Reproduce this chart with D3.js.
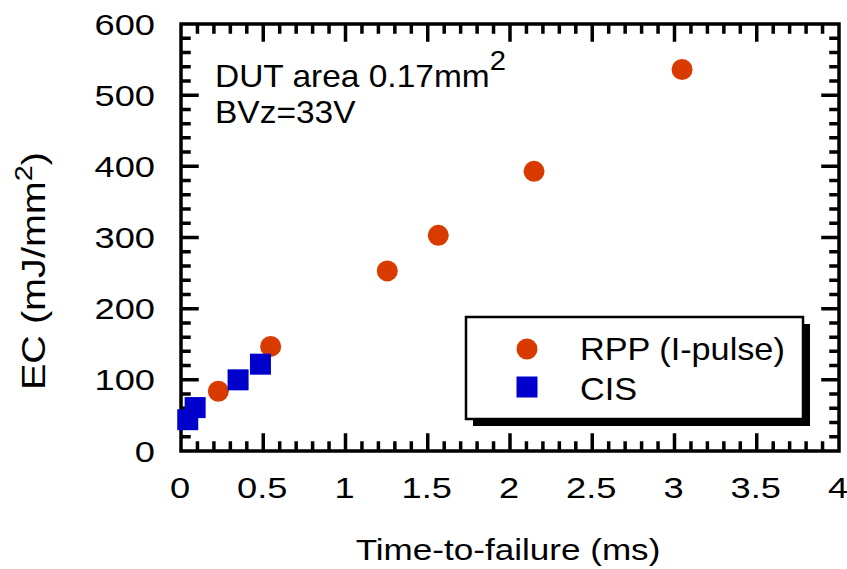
<!DOCTYPE html>
<html>
<head>
<meta charset="utf-8">
<script src="https://cdn.jsdelivr.net/npm/d3@7"></script>
<style>
  body { margin: 0; background: #fff; }
  svg text { font-family: "Liberation Sans", Arial, Helvetica, sans-serif; fill: #000; }
</style>
</head>
<body>
<div id="chart"></div>
<script>
// RPP (I-pulse) series
const rppTime = [0.227, 0.545, 1.254, 1.564, 2.146, 3.046];
const rppEC = [84, 147, 253, 303, 393, 536];
// CIS series
const cisTime = [0.041, 0.086, 0.347, 0.483];
const cisEC = [44, 61, 100, 122];

const xTicks = [0, 0.5, 1, 1.5, 2, 2.5, 3, 3.5, 4];
const xTickLabels = ["0", "0.5", "1", "1.5", "2", "2.5", "3", "3.5", "4"];
const yTicks = [0, 100, 200, 300, 400, 500, 600];
const yTickLabels = ["0", "100", "200", "300", "400", "500", "600"];
const seriesNames = ["RPP (I-pulse)", "CIS"];

const width = 847, height = 569;
const plot = { left: 181, right: 839, top: 24, bottom: 451 };
const orange = "#d93a00", blue = "#0000cc";
const lw = 3.5;

const svg = d3.select("#chart").append("svg")
    .attr("width", width)
    .attr("height", height);

const x = d3.scaleLinear().domain([0, 4]).range([plot.left, plot.right]);
const y = d3.scaleLinear().domain([0, 600]).range([plot.bottom, plot.top]);

const minorX = d3.range(1, 40).map(v => v / 10).filter((v, i) => (i + 1) % 5 !== 0);
const minorY = d3.range(1, 30).map(v => v * 20).filter(v => v % 100 !== 0);

// frame plus ticks pointing inward on all four sides
const tickPath = d3.path();
[[xTicks, 16], [minorX, 8]].forEach(([vals, len]) => {
    vals.forEach(v => {
        tickPath.moveTo(x(v), plot.bottom); tickPath.lineTo(x(v), plot.bottom - len);
        tickPath.moveTo(x(v), plot.top); tickPath.lineTo(x(v), plot.top + len);
    });
});
[[yTicks, 16], [minorY, 8]].forEach(([vals, len]) => {
    vals.forEach(v => {
        tickPath.moveTo(plot.left, y(v)); tickPath.lineTo(plot.left + len, y(v));
        tickPath.moveTo(plot.right, y(v)); tickPath.lineTo(plot.right - len, y(v));
    });
});
tickPath.rect(plot.left, plot.top, plot.right - plot.left, plot.bottom - plot.top);

svg.append("path")
    .attr("d", tickPath.toString())
    .attr("fill", "none")
    .attr("stroke", "black")
    .attr("stroke-width", lw)
    .attr("stroke-linecap", "square");

// tick labels (the source text is drawn a bit wide)
svg.append("g").selectAll("text")
    .data(xTicks)
    .join("text")
    .attr("transform", d => `translate(${x(d) - 1},498) scale(1.25,1)`)
    .attr("text-anchor", "middle")
    .attr("font-size", 29)
    .text((d, i) => xTickLabels[i]);

svg.append("g").selectAll("text")
    .data(yTicks)
    .join("text")
    .attr("transform", d => `translate(155,${y(d) + 10.5}) scale(1.25,1)`)
    .attr("text-anchor", "end")
    .attr("font-size", 29)
    .text((d, i) => yTickLabels[i]);

// axis titles
svg.append("text")
    .attr("transform", "translate(508,560) scale(1.17,1)")
    .attr("text-anchor", "middle")
    .attr("font-size", 30)
    .text("Time-to-failure (ms)");

const yTitle = svg.append("text")
    .attr("transform", "translate(45,271) rotate(-90) scale(1.2,1)")
    .attr("text-anchor", "middle")
    .attr("font-size", 33);
yTitle.append("tspan").text("EC (mJ/mm");
yTitle.append("tspan").attr("font-size", 24).attr("dy", -13).text("2");
yTitle.append("tspan").attr("dy", 13).text(")");

// annotation
const note = svg.append("g").attr("transform", "translate(215,0) scale(1.08,1)");
const line1 = note.append("text").attr("y", 87).attr("font-size", 31);
line1.append("tspan").text("DUT area 0.17mm");
line1.append("tspan").attr("font-size", 27).attr("dy", -17).text("2");
note.append("text").attr("y", 123).attr("font-size", 31).text("BVz=33V");

// data points
svg.append("g").selectAll("circle")
    .data(rppTime)
    .join("circle")
    .attr("cx", d => x(d))
    .attr("cy", (d, i) => y(rppEC[i]))
    .attr("r", 10.5)
    .attr("fill", orange);

svg.append("g").selectAll("rect")
    .data(cisTime)
    .join("rect")
    .attr("x", d => x(d) - 10.5)
    .attr("y", (d, i) => y(cisEC[i]) - 10.5)
    .attr("width", 21)
    .attr("height", 21)
    .attr("fill", blue);

// legend box with drop shadow
const lg = { x: 466, y: 317, w: 337, h: 102 };
svg.append("rect")
    .attr("x", lg.x + 7).attr("y", lg.y + 7)
    .attr("width", lg.w).attr("height", lg.h)
    .attr("fill", "black");
svg.append("rect")
    .attr("x", lg.x).attr("y", lg.y)
    .attr("width", lg.w).attr("height", lg.h)
    .attr("fill", "white")
    .attr("stroke", "black")
    .attr("stroke-width", 2.5);

svg.append("circle")
    .attr("cx", 527).attr("cy", 349).attr("r", 10.5).attr("fill", orange);
svg.append("rect")
    .attr("x", 516.5).attr("y", 376.5).attr("width", 21).attr("height", 21).attr("fill", blue);

seriesNames.forEach((name, i) => {
    svg.append("text")
        .attr("transform", `translate(580,${360 + i * 40}) scale(1.07,1)`)
        .attr("font-size", 32)
        .text(name);
});
</script>
</body>
</html>
